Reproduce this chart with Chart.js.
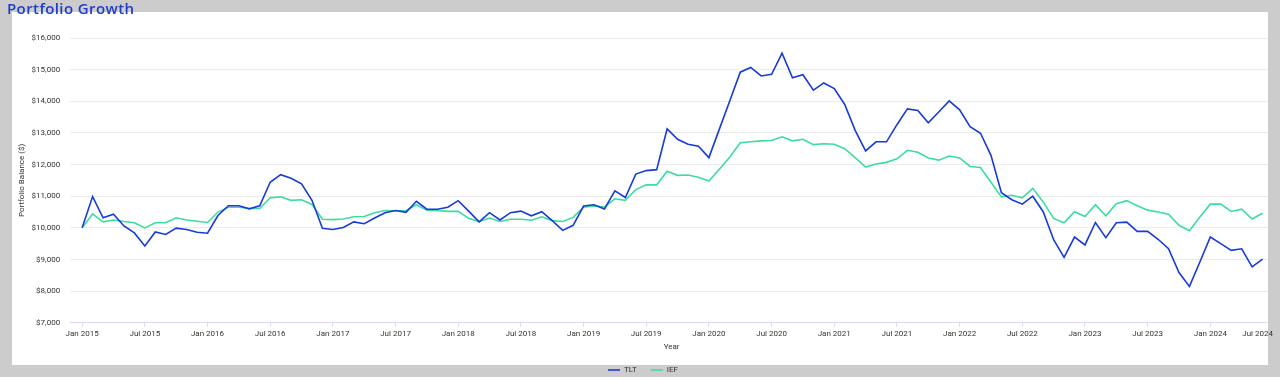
<!DOCTYPE html>
<html>
<head>
<meta charset="utf-8">
<title>Portfolio Growth</title>
<script src="https://cdn.jsdelivr.net/npm/chart.js@4"></script>
<style>
  html, body { margin: 0; padding: 0; width: 1280px; height: 377px; overflow: hidden; background: #cccccc; }
  #panel { position: absolute; left: 12px; top: 12px; width: 1256px; height: 353px; background: #ffffff; }
  #title { position: absolute; left: 7px; top: 1px; z-index: 2; font: 600 15px/15px "Open Sans", sans-serif; letter-spacing: 0.4px; color: #1c3dc4; }
  #line { position: absolute; left: 0; top: 0; }
  /* right margin of the page sits over the plot edge */
  #edge { position: absolute; left: 1268px; top: 12px; width: 12px; height: 315px; background: #cccccc; z-index: 2; }
</style>
</head>
<body>
<div id="panel"></div>
<div id="title">Portfolio Growth</div>
<canvas id="line" width="1280" height="384"></canvas>
<div id="edge"></div>
<script>
// monthly balances, Jan 2015 .. Jun 2024 (index = months since Jan 2015)
var tlt = [
  10000, 10990, 10320, 10430, 10060, 9840, 9430, 9870, 9790, 9990, 9950, 9860,
  9830, 10390, 10700, 10700, 10600, 10700, 11440, 11680, 11570, 11390, 10870, 9990,
  9950, 10010, 10190, 10130, 10310, 10480, 10550, 10490, 10840, 10590, 10590, 10650,
  10860, 10530, 10190, 10480, 10250, 10480, 10530, 10380, 10510, 10230, 9920, 10080,
  10690, 10730, 10600, 11170, 10960, 11700, 11810, 11840, 13130, 12800, 12640, 12580,
  12220, 13120, 14020, 14920, 15070, 14800, 14850, 15520, 14740, 14840, 14350, 14580,
  14400, 13900, 13080, 12430, 12720, 12720, 13260, 13760, 13710, 13320, 13660, 14010,
  13730, 13200, 12990, 12290, 11110, 10890, 10750, 11000, 10510, 9630, 9070, 9710,
  9460, 10170, 9690, 10160, 10180, 9890, 9890, 9640, 9340, 8590, 8150, 8920,
  9710, 9500, 9290, 9340, 8770, 9010
];
var ief = [
  10000, 10440, 10190, 10250, 10200, 10160, 10000, 10160, 10160, 10320, 10250, 10210,
  10170, 10500, 10650, 10650, 10610, 10610, 10950, 10980, 10870, 10890, 10740, 10270,
  10260, 10280, 10350, 10360, 10480, 10550, 10540, 10540, 10730, 10560, 10550, 10520,
  10520, 10300, 10200, 10310, 10200, 10270, 10270, 10240, 10350, 10230, 10200, 10330,
  10650, 10690, 10660, 10920, 10870, 11210, 11360, 11360, 11790, 11660, 11670, 11600,
  11480, 11850, 12240, 12690, 12720, 12750, 12760, 12880, 12750, 12800, 12630, 12660,
  12640, 12500, 12220, 11920, 12020, 12070, 12180, 12450, 12390, 12210, 12140, 12270,
  12210, 11940, 11910, 11440, 10980, 11030, 10950, 11250, 10820, 10300, 10160, 10510,
  10360, 10730, 10380, 10760, 10860, 10700, 10560, 10500, 10430, 10080, 9910, 10340,
  10750, 10750, 10520, 10590, 10280, 10460
];
var tickLabels = [
  'Jan 2015', 'Jul 2015', 'Jan 2016', 'Jul 2016', 'Jan 2017', 'Jul 2017', 'Jan 2018',
  'Jul 2018', 'Jan 2019', 'Jul 2019', 'Jan 2020', 'Jul 2020', 'Jan 2021', 'Jul 2021',
  'Jan 2022', 'Jul 2022', 'Jan 2023', 'Jul 2023', 'Jan 2024', 'Jul 2024'
];
var tickStep = 6;   // months between x labels
var xMin = -1.15;   // a little room before Jan 2015

function points(arr) {
  return arr.map(function (v, i) { return {x: i, y: v}; });
}

var font8 = {family: 'Roboto', size: 8};

var ctx = document.getElementById('line').getContext('2d');
var chart = new Chart(ctx, {
    type: 'line',
    data: {
        datasets: [{
            label: 'TLT',
            data: points(tlt),
            borderColor: '#1a3ad6',
            backgroundColor: '#1a3ad6',
            borderWidth: 1.6,
            pointRadius: 0,
            tension: 0
        }, {
            label: 'IEF',
            data: points(ief),
            borderColor: '#3ddc9e',
            backgroundColor: '#3ddc9e',
            borderWidth: 1.6,
            pointRadius: 0,
            tension: 0
        }]
    },
    options: {
        responsive: false,
        animation: false,
        devicePixelRatio: 1,
        layout: {padding: {top: 38, left: 13, right: 7, bottom: 0}},
        plugins: {
            legend: {
                position: 'bottom',
                labels: {
                    usePointStyle: true,
                    pointStyle: 'line',
                    pointStyleWidth: 12,
                    font: font8,
                    color: '#333',
                    padding: 14
                }
            },
            tooltip: {enabled: false}
        },
        scales: {
            x: {
                type: 'linear',
                min: xMin,
                max: (tickLabels.length - 1) * tickStep,
                afterBuildTicks: function (axis) {
                    axis.ticks = [{value: xMin}].concat(tickLabels.map(function (t, k) {
                        return {value: k * tickStep};
                    }));
                },
                ticks: {
                    align: 'inner',
                    autoSkip: false,
                    maxRotation: 0,
                    padding: 2,
                    font: font8,
                    color: '#333',
                    callback: function (value) {
                        var k = value / tickStep;
                        return Number.isInteger(k) ? tickLabels[k] : '';
                    }
                },
                grid: {
                    drawOnChartArea: false,
                    drawTicks: true,
                    tickLength: 4,
                    tickColor: function (c) { return c.index === 0 ? 'rgba(0,0,0,0)' : '#d5def0'; }
                },
                border: {color: '#d5def0'},
                title: {display: true, text: 'Year', font: font8, color: '#333', padding: {top: 2, bottom: 0}}
            },
            y: {
                min: 7000,
                max: 16000,
                ticks: {
                    stepSize: 1000,
                    padding: 10,
                    font: font8,
                    color: '#333',
                    callback: function (v) { return '$' + v.toLocaleString('en-US'); }
                },
                grid: {color: '#ebebeb', drawTicks: false},
                border: {display: false},
                title: {display: true, text: 'Portfolio Balance ($)', font: font8, color: '#333', padding: {top: 4, bottom: -5}}
            }
        }
    }
});
</script>
</body>
</html>
